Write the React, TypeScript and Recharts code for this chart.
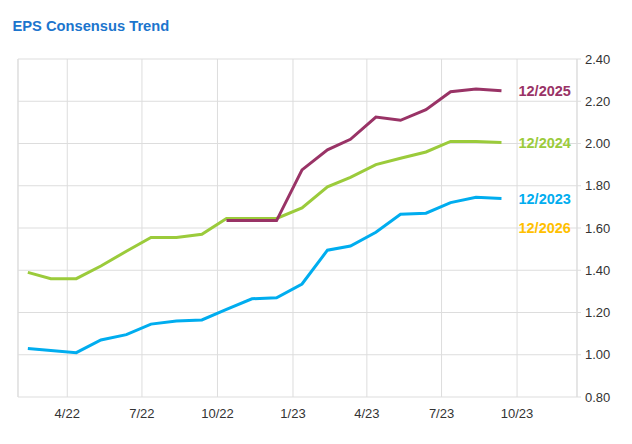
import React from 'react';
import { LineChart, Line, XAxis, YAxis, CartesianGrid, ReferenceLine, ReferenceDot } from 'recharts';

const dates = [
  '2022-02-12', '2022-03-12', '2022-04-12', '2022-05-12', '2022-06-12', '2022-07-12',
  '2022-08-12', '2022-09-12', '2022-10-12', '2022-11-12', '2022-12-12', '2023-01-12',
  '2023-02-12', '2023-03-12', '2023-04-12', '2023-05-12', '2023-06-12', '2023-07-12',
  '2023-08-12', '2023-09-12',
];
const eps2023 = [1.03, 1.02, 1.01, 1.07, 1.095, 1.145, 1.16, 1.165, 1.215, 1.265, 1.27, 1.335, 1.495, 1.515, 1.58, 1.665, 1.67, 1.72, 1.745, 1.74];
const eps2024 = [1.39, 1.36, 1.36, 1.42, 1.49, 1.555, 1.555, 1.57, 1.645, 1.645, 1.645, 1.695, 1.795, 1.84, 1.9, 1.93, 1.96, 2.01, 2.01, 2.005];
const eps2025 = [null, null, null, null, null, null, null, null, 1.635, 1.635, 1.635, 1.875, 1.97, 2.02, 2.125, 2.11, 2.16, 2.245, 2.258, 2.25];
const eps2026 = dates.map(() => null);

const seriesNames = ['12/2023', '12/2024', '12/2025', '12/2026'];
const seriesColors = ['#00ADEF', '#9BCB3B', '#993366', '#FFC000'];
const labelValues = [1.74, 2.005, 2.25, 1.6];

const xTickLabels = ['4/22', '7/22', '10/22', '1/23', '4/23', '7/23', '10/23'];
const xTickDates = ['2022-04-01', '2022-07-01', '2022-10-01', '2023-01-01', '2023-04-01', '2023-07-01', '2023-10-01'];
const yTicks = [0.8, 1.0, 1.2, 1.4, 1.6, 1.8, 2.0, 2.2, 2.4];
const xDomainDates = ['2022-01-31', '2023-12-13'];

const ts = (d: string) => Date.parse(d + 'T00:00:00Z');
const xTicks = xTickDates.map(ts);
const xDomain = xDomainDates.map(ts);

const seriesValues = [eps2023, eps2024, eps2025, eps2026];
const data = dates.map((d, i) => {
  const row: any = { t: ts(d) };
  seriesNames.forEach((n, k) => { row[n] = seriesValues[k][i]; });
  return row;
});
const lastT = ts(dates[dates.length - 1]);

const font = '"Liberation Sans", Arial, sans-serif';

export default function App() {
  return (
    <div style={{ position: 'absolute', left: 0, top: 0, width: 632, height: 444, background: '#fff' }}>
      <div style={{ position: 'absolute', left: 12.5, top: 19.3, fontFamily: font, fontWeight: 'bold', fontSize: 14.7, lineHeight: '14.7px', color: '#1C75CD', whiteSpace: 'nowrap' }}>
        EPS Consensus Trend
      </div>
      <LineChart width={632} height={444} data={data} margin={{ top: 59, right: 0, left: 18, bottom: 17 }}>
        <CartesianGrid stroke="#dddddd" strokeWidth={1} />
        <XAxis
          dataKey="t"
          type="number"
          domain={xDomain}
          ticks={xTicks}
          allowDataOverflow
          tickFormatter={(v: number) => xTickLabels[xTicks.indexOf(v)] ?? ''}
          axisLine={false}
          tickLine={false}
          tickSize={6}
          tickMargin={6}
          height={30}
          tick={{ fill: '#333', fontSize: 13, fontFamily: font }}
        />
        <YAxis
          orientation="right"
          domain={[0.8, 2.4]}
          ticks={yTicks}
          width={55}
          tickFormatter={(v: number) => v.toFixed(2)}
          axisLine={{ stroke: '#dddddd' }}
          tickLine={{ stroke: '#dddddd' }}
          tickSize={4}
          tickMargin={4}
          tick={{ fill: '#333', fontSize: 13, fontFamily: font }}
        />
        <ReferenceLine x={xDomain[0]} stroke="#dddddd" />
        {seriesNames.map((n, k) => (
          <Line key={n} dataKey={n} stroke={seriesColors[k]} strokeWidth={3} dot={false} isAnimationActive={false} type="linear" />
        ))}
        {seriesNames.map((n, k) => (
          <ReferenceDot
            key={'lbl' + n}
            x={lastT}
            y={labelValues[k]}
            r={0}
            shape={(p: any) => (
              <text x={p.cx + 17} y={p.cy} dy="0.35em" fill={seriesColors[k]} fontFamily={font} fontWeight="bold" fontSize={14.5} textAnchor="start">
                {n}
              </text>
            )}
          />
        ))}
      </LineChart>
    </div>
  );
}
